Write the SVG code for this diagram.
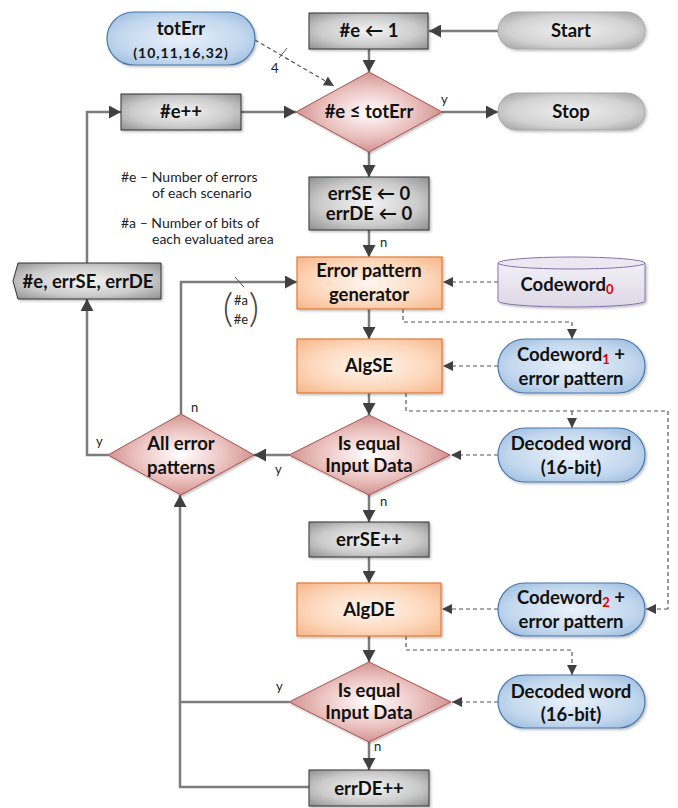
<svg xmlns="http://www.w3.org/2000/svg" width="678" height="808" viewBox="0 0 678 808">
  <defs>
    <radialGradient id="gGray" cx="0.5" cy="0.5" r="0.75">
      <stop offset="0" stop-color="#f4f4f4"/>
      <stop offset="0.55" stop-color="#cbcbcb"/>
      <stop offset="1" stop-color="#858585"/>
    </radialGradient>
    <radialGradient id="gPill" cx="0.5" cy="0.5" r="0.7">
      <stop offset="0" stop-color="#f0f0f0"/>
      <stop offset="0.6" stop-color="#d2d2d2"/>
      <stop offset="1" stop-color="#9c9c9c"/>
    </radialGradient>
    <radialGradient id="gOrange" cx="0.5" cy="0.5" r="0.75">
      <stop offset="0" stop-color="#fff7f0"/>
      <stop offset="0.55" stop-color="#fdd7bb"/>
      <stop offset="1" stop-color="#f6b081"/>
    </radialGradient>
    <radialGradient id="gRed" cx="0.5" cy="0.5" r="0.6">
      <stop offset="0" stop-color="#ffffff"/>
      <stop offset="0.5" stop-color="#ecc4c2"/>
      <stop offset="1" stop-color="#c57b78"/>
    </radialGradient>
    <radialGradient id="gBlue" cx="0.5" cy="0.5" r="0.7">
      <stop offset="0" stop-color="#e9f1fa"/>
      <stop offset="0.6" stop-color="#c3d8ee"/>
      <stop offset="1" stop-color="#92b6dc"/>
    </radialGradient>
    <linearGradient id="gCyl" x1="0" y1="0" x2="0" y2="1">
      <stop offset="0" stop-color="#f2f0f6"/>
      <stop offset="1" stop-color="#dcd8e6"/>
    </linearGradient>
    <filter id="shadow" x="-10%" y="-10%" width="125%" height="130%">
      <feDropShadow dx="1.5" dy="1.5" stdDeviation="1.2" flood-color="#000" flood-opacity="0.25"/>
    </filter>
    <marker id="arr" markerUnits="userSpaceOnUse" markerWidth="13" markerHeight="13" refX="12" refY="6.5" orient="auto">
      <path d="M0,0 L12,6.5 L0,13 z" fill="#404040"/>
    </marker>
    <marker id="darr" markerUnits="userSpaceOnUse" markerWidth="11" markerHeight="11" refX="10" refY="5" orient="auto">
      <path d="M0,0 L10,5 L0,10 z" fill="#404040"/>
    </marker>
  </defs>
  <style>
    .t { font-family: Lato, "Liberation Sans", sans-serif; font-weight: bold; font-size: 18.5px; fill: #111; text-anchor: middle; }
    .t.small { font-size: 14px; letter-spacing: 1px; }
    .s { font-family: Lato, "Liberation Sans", sans-serif; font-size: 14px; fill: #222; }
    .lbl { font-family: Lato, "Liberation Sans", sans-serif; font-size: 13px; fill: #222; }
    .bin { font-family: Lato, "Liberation Sans", sans-serif; font-size: 13px; fill: #222; text-anchor: middle; }
    .paren { font-family: Lato, "Liberation Sans", sans-serif; font-size: 40px; font-weight: 300; fill: #444; text-anchor: middle; }
    .sub { font-size: 13px; fill: #e00000; }
    .box { fill: url(#gGray); stroke: #333; stroke-width: 1; filter: url(#shadow); }
    .pill { fill: url(#gPill); stroke: #a8a8a8; stroke-width: 1; filter: url(#shadow); }
    .org { fill: url(#gOrange); stroke: #e27b35; stroke-width: 1.2; filter: url(#shadow); }
    .dia { fill: url(#gRed); stroke: #a65350; stroke-width: 1; filter: url(#shadow); }
    .blue { fill: url(#gBlue); stroke: #4a78ab; stroke-width: 1.2; filter: url(#shadow); }
    .flow { fill: none; stroke: #7c7c7c; stroke-width: 2.5; }
    .flow-arr { fill: none; stroke: #7c7c7c; stroke-width: 2.5; marker-end: url(#arr); }
    .dash { fill: none; stroke: #555; stroke-width: 1.2; stroke-dasharray: 4 3; }
    .dash-arr { fill: none; stroke: #555; stroke-width: 1.2; stroke-dasharray: 4 3; marker-end: url(#darr); }
  </style>

  <rect width="678" height="808" fill="#fff"/>

  <!-- connectors -->
  <g id="connectors">
    <!-- main solid flow -->
    <path class="flow-arr" d="M498,31 L429,31"/>
    <path class="flow-arr" d="M369,49 L369,72"/>
    <path class="flow-arr" d="M442,112 L498,112"/>
    <path class="flow-arr" d="M241,112 L296,112"/>
    <path class="flow-arr" d="M369,152 L369,177"/>
    <path class="flow-arr" d="M369,230 L369,257"/>
    <path class="flow-arr" d="M369,309 L369,339"/>
    <path class="flow-arr" d="M369,393 L369,415"/>
    <path class="flow-arr" d="M369,495 L369,522"/>
    <path class="flow-arr" d="M369,557 L369,583"/>
    <path class="flow-arr" d="M369,636 L369,662"/>
    <path class="flow-arr" d="M369,742 L369,770"/>
    <path class="flow-arr" d="M289,455 L254,455"/>
    <path class="flow-arr" d="M181,414 L181,282 L297,282"/>
    <path class="flow-arr" d="M108,455 L87,455 L87,299"/>
    <path class="flow-arr" d="M87,263 L87,112 L121,112"/>
    <path class="flow-arr" d="M289,702 L180,702 L180,495"/>
    <path class="flow" d="M309,787 L180,787 L180,702"/>
    <!-- tick marks on buses -->
    <line x1="235" y1="277" x2="244" y2="287" stroke="#555" stroke-width="1"/>
    <line x1="279" y1="58" x2="287" y2="48" stroke="#555" stroke-width="1"/>

    <!-- dashed data flow -->
    <path class="dash-arr" d="M255,40 L334,86"/>
    <path class="dash-arr" d="M498,282 L443,282"/>
    <path class="dash-arr" d="M403,309 L403,322 L572,322 L572,339"/>
    <path class="dash-arr" d="M498,366 L443,366"/>
    <path class="dash" d="M406,393 L406,411 L668,411 L668,609"/>
    <path class="dash-arr" d="M668,609 L646,609"/>
    <path class="dash-arr" d="M572,411 L572,428"/>
    <path class="dash-arr" d="M498,455 L451,455"/>
    <path class="dash-arr" d="M498,609 L442,609"/>
    <path class="dash-arr" d="M406,636 L406,650 L572,650 L572,675"/>
    <path class="dash-arr" d="M498,702 L452,702"/>

    <!-- branch labels -->
    <text class="lbl" x="441" y="104">y</text>
    <text class="lbl" x="380" y="247">n</text>
    <text class="lbl" x="380" y="506">n</text>
    <text class="lbl" x="275" y="474">y</text>
    <text class="lbl" x="191" y="412">n</text>
    <text class="lbl" x="96" y="446">y</text>
    <text class="lbl" x="276" y="691">y</text>
    <text class="lbl" x="374" y="751">n</text>
    <text class="lbl" x="271" y="73">4</text>
    <!-- combination label on the pattern-generator input -->
    <text class="paren" x="228" y="322">(</text>
    <text class="paren" x="254" y="322">)</text>
    <text class="bin" x="241" y="305">#a</text>
    <text class="bin" x="241" y="324">#e</text>
  </g>

  <!-- notes -->
  <g id="notes">
    <text class="s" x="121" y="182">#e – Number of errors</text>
    <text class="s" x="152" y="198">of each scenario</text>
    <text class="s" x="121" y="228">#a – Number of bits of</text>
    <text class="s" x="152" y="244">each evaluated area</text>
  </g>

  <g id="totErr">
    <rect class="blue" x="107" y="12" width="148" height="53" rx="26.5"/>
    <text class="t" x="181" y="35">totErr</text>
    <text class="t small" x="181" y="58">(10,11,16,32)</text>
  </g>

  <g id="init-e">
    <rect class="box" x="309" y="13" width="119" height="36"/>
    <text class="t" x="369" y="37">#e ← 1</text>
  </g>

  <g id="start">
    <rect class="pill" x="498" y="12" width="147" height="37" rx="18.5"/>
    <text class="t" x="571" y="37">Start</text>
  </g>

  <g id="inc-e">
    <rect class="box" x="121" y="94" width="120" height="36"/>
    <text class="t" x="181" y="118">#e++</text>
  </g>

  <g id="check-e">
    <polygon class="dia" points="369,72 442,112 369,152 296,112"/>
    <text class="t" x="369" y="118">#e ≤ totErr</text>
  </g>

  <g id="stop">
    <rect class="pill" x="498" y="93" width="147" height="37" rx="18.5"/>
    <text class="t" x="571" y="118">Stop</text>
  </g>

  <g id="reset-err">
    <rect class="box" x="309" y="177" width="120" height="53"/>
    <text class="t" x="369" y="200">errSE ← 0</text>
    <text class="t" x="369" y="220">errDE ← 0</text>
  </g>

  <g id="output">
    <polygon class="box" points="18,263 161,263 161,299 18,299 13,281"/>
    <text class="t" x="88" y="288">#e, errSE, errDE</text>
  </g>

  <g id="pattern-gen">
    <rect class="org" x="297" y="257" width="145" height="52"/>
    <text class="t" x="369" y="277">Error pattern</text>
    <text class="t" x="369" y="301">generator</text>
  </g>

  <g id="codeword0">
    <path d="M498,263 L498,301 A73.5,6 0 0 0 645,301 L645,263" fill="url(#gCyl)" stroke="#8474aa" stroke-width="1" filter="url(#shadow)"/>
    <ellipse cx="571.5" cy="263" rx="73.5" ry="6" fill="#ebe8f2" stroke="#8474aa" stroke-width="1"/>
    <text class="t" x="567" y="291">Codeword<tspan class="sub" dy="3">0</tspan></text>
  </g>

  <g id="algse">
    <rect class="org" x="297" y="339" width="145" height="54"/>
    <text class="t" x="369" y="372">AlgSE</text>
  </g>

  <g id="codeword1">
    <rect class="blue" x="498" y="339" width="147" height="54" rx="27"/>
    <text class="t" x="571" y="361">Codeword<tspan class="sub" dy="3">1</tspan><tspan dy="-3"> +</tspan></text>
    <text class="t" x="571" y="385">error pattern</text>
  </g>

  <g id="equal-se">
    <polygon class="dia" points="369,415 450,455 369,495 289,455"/>
    <text class="t" x="369" y="450">Is equal</text>
    <text class="t" x="369" y="472">Input Data</text>
  </g>

  <g id="decoded1">
    <rect class="blue" x="498" y="428" width="147" height="54" rx="27"/>
    <text class="t" x="571" y="450">Decoded word</text>
    <text class="t" x="571" y="474">(16-bit)</text>
  </g>

  <g id="all-patterns">
    <polygon class="dia" points="181,414 254,455 181,495 108,455"/>
    <text class="t" x="181" y="450">All error</text>
    <text class="t" x="181" y="474">patterns</text>
  </g>

  <g id="inc-errse">
    <rect class="box" x="309" y="522" width="120" height="35"/>
    <text class="t" x="369" y="546">errSE++</text>
  </g>

  <g id="algde">
    <rect class="org" x="297" y="583" width="144" height="53"/>
    <text class="t" x="369" y="616">AlgDE</text>
  </g>

  <g id="codeword2">
    <rect class="blue" x="498" y="583" width="147" height="53" rx="26.5"/>
    <text class="t" x="571" y="604">Codeword<tspan class="sub" dy="3">2</tspan><tspan dy="-3"> +</tspan></text>
    <text class="t" x="571" y="628">error pattern</text>
  </g>

  <g id="equal-de">
    <polygon class="dia" points="369,662 451,702 369,742 289,702"/>
    <text class="t" x="369" y="697">Is equal</text>
    <text class="t" x="369" y="719">Input Data</text>
  </g>

  <g id="decoded2">
    <rect class="blue" x="498" y="675" width="147" height="53" rx="26.5"/>
    <text class="t" x="571" y="698">Decoded word</text>
    <text class="t" x="571" y="721">(16-bit)</text>
  </g>

  <g id="inc-errde">
    <rect class="box" x="309" y="770" width="120" height="36"/>
    <text class="t" x="369" y="795">errDE++</text>
  </g>
</svg>
